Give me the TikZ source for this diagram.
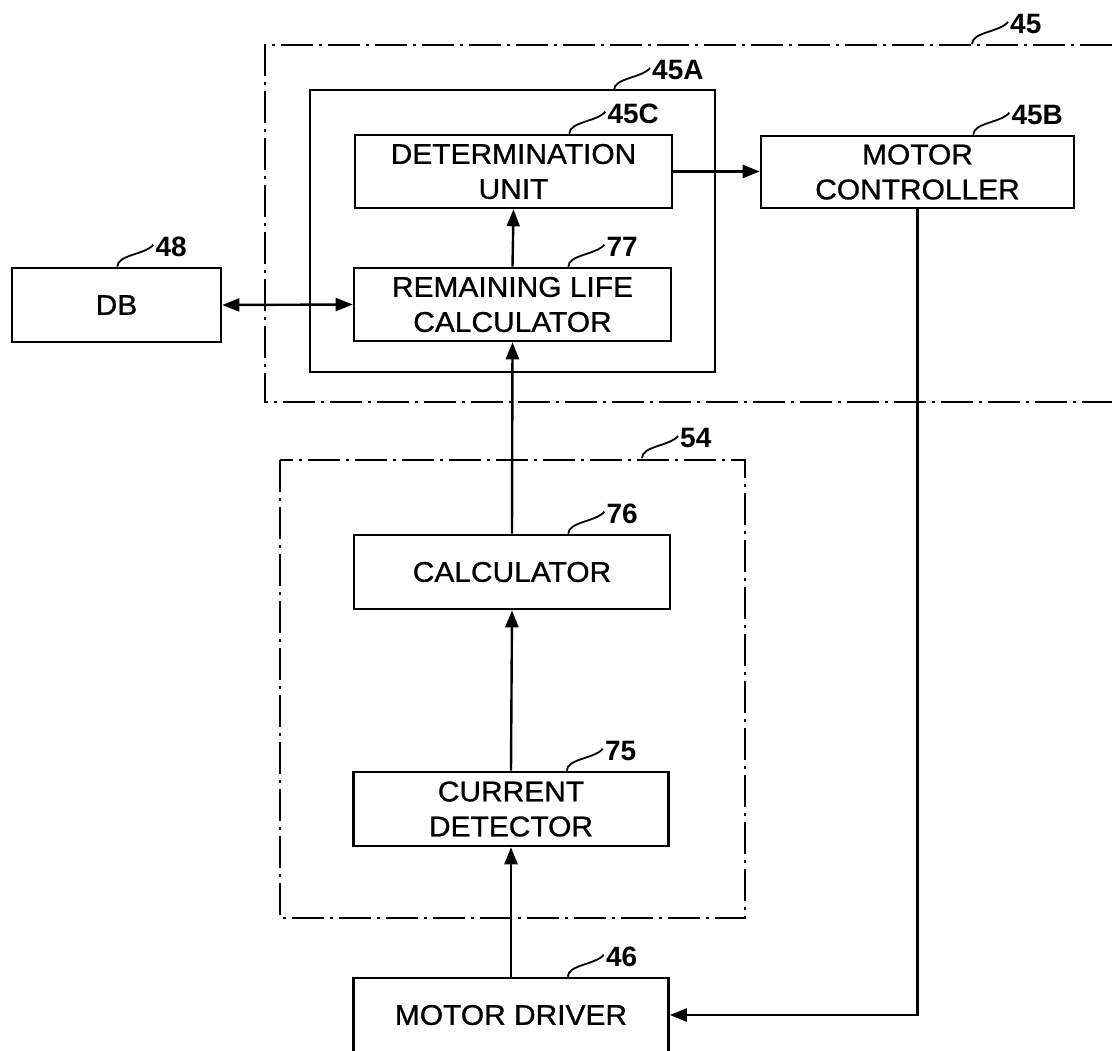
\documentclass[tikz,border=0pt]{standalone}
\usepackage{fontspec}
\setmainfont{Liberation Sans}
\newfontfamily\boxfam{Liberation Sans}[FakeStretch=1.05,FakeBold=0.9]
\newfontfamily\lblfam{Liberation Sans Bold}
\newcommand\boxfont{\boxfam\fontsize{28.5}{35}\selectfont}
\newcommand\lblfont{\lblfam\fontsize{28}{30}\selectfont}
\usetikzlibrary{arrows.meta,calc}
\begin{document}
\begin{tikzpicture}[x=1pt,y=-1pt,
  box/.style={draw,line width=2.6pt,align=center,inner sep=0pt,font=\boxfont},
  lbl/.style={font=\lblfont,inner sep=0pt,anchor=south west},
  ddot/.style={line width=2.3pt,dash pattern=on 32pt off 6pt on 3pt off 6pt},
  conn/.style={line width=2.4pt,-{Triangle[length=17pt,width=13pt]}},
  biconn/.style={line width=2.4pt,{Triangle[length=17pt,width=13pt]}-{Triangle[length=17pt,width=13pt]}},
  lead/.style={line width=1.8pt}]
\fill[white] (0,0) rectangle (1112,1051);
\useasboundingbox (0,0) rectangle (1112,1051);

% frames
\draw[ddot] (1112,45) -- (265,45) -- (265,402) -- (1112,402);
\draw[line width=2.6pt] (310,90) rectangle (715,372);
\draw[ddot] (280,460) rectangle (745,918);

% boxes
\node[box,minimum width=317pt,minimum height=73pt] (det) at (513.5,171.5) {DETERMINATION\\UNIT};
\node[box,minimum width=317pt,minimum height=73pt] (rlc) at (512.5,304.5) {REMAINING LIFE\\CALCULATOR};
\node[box,minimum width=313pt,minimum height=72pt] (mc) at (917.5,172) {MOTOR\\CONTROLLER};
\node[box,minimum width=209pt,minimum height=74pt] (db) at (116.5,305) {DB};
\node[box,minimum width=316pt,minimum height=74pt] (calc) at (512,572) {CALCULATOR};
\node[box,minimum width=315pt,minimum height=74pt] (cur) at (511,809) {CURRENT\\DETECTOR};
\node[box,minimum width=315pt,minimum height=74pt] (drv) at (511,1015) {MOTOR DRIVER};

% connectors
\draw[conn] (det.east) -- (det.east -| mc.west);
\draw[conn] (rlc.north) -- (det.south);
\draw[biconn] (db.east) -- (rlc.west);
\draw[conn] (calc.north) -- (rlc.south);
\draw[conn] (cur.north) -- (calc.south);
\draw[conn] (drv.north) -- (cur.south);
\draw[conn] (mc.south) -- (mc.south |- drv.east) -- (drv.east);

% reference leaders and labels
\coordinate (s45) at (972,44);
\coordinate (s45A) at (614,90);
\coordinate (s54) at (642,458);
\coordinate (s45C) at ([xshift=-104pt]det.north east);
\coordinate (s77) at ([xshift=-104pt]rlc.north east);
\coordinate (s45B) at ([xshift=-102pt]mc.north east);
\coordinate (s48) at ([xshift=-105pt]db.north east);
\coordinate (s76) at ([xshift=-103pt]calc.north east);
\coordinate (s75) at ([xshift=-103pt]cur.north east);
\coordinate (s46) at ([xshift=-102pt]drv.north east);
\foreach \n in {45,45A,54,45C,77,45B,48,76,75,46}{
  \draw[lead] (s\n) .. controls +(0,-12) and +(-8,10) .. ($(s\n)+(36,-22)$);
  \node[lbl] (l\n) at ($(s\n)+(38,-10)$) {\n};
}
\end{tikzpicture}
\end{document}
